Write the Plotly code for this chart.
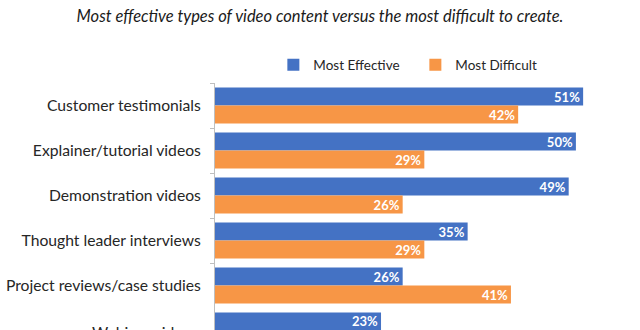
import plotly.graph_objects as go

categories = ["Customer testimonials", "Explainer/tutorial videos", "Demonstration videos",
              "Thought leader interviews", "Project reviews/case studies", "Webinar videos"]
most_effective = [51, 50, 49, 35, 26, 23]
most_difficult = [42, 29, 26, 29, 41, None]
series_names = ["Most Effective", "Most Difficult"]
title_text = "Most effective types of video content versus the most difficult to create."

BLUE = "#4472C4"
ORANGE = "#F79646"
FONT = "Lato"

fig = go.Figure()
for name, vals, col in [(series_names[0], most_effective, BLUE),
                        (series_names[1], most_difficult, ORANGE)]:
    fig.add_trace(go.Bar(
        y=categories, x=vals, name=name, orientation="h",
        marker=dict(color=col, line=dict(width=0)),
        texttemplate="<b>%{x}%</b>", textposition="inside", insidetextanchor="end",
        constraintext="none",
        textfont=dict(color="white", size=13, family=FONT),
        cliponaxis=True,
    ))

fig.update_layout(
    width=640, height=330,
    margin=dict(l=215, r=28, t=83, b=0),
    paper_bgcolor="white", plot_bgcolor="white",
    barmode="group", bargap=0.2, bargroupgap=0,
    font=dict(family=FONT, color="#262626"),
    title=dict(text="<i>" + title_text + "</i>", x=0.5, xref="container", xanchor="center",
               y=1 - 16 / 330, yref="container", yanchor="middle",
               font=dict(size=16.5, family=FONT, color="#1a1a1a")),
    legend=dict(orientation="h", x=0.147, xanchor="left", y=1.073, yanchor="middle",
                font=dict(size=13.5, family=FONT, color="#262626"),
                entrywidth=97, entrywidthmode="pixels", traceorder="normal",
                bgcolor="rgba(0,0,0,0)"),
    showlegend=True,
)
fig.update_xaxes(range=[0, 55], visible=False, showgrid=False, zeroline=False)
fig.update_yaxes(
    type="category", categoryorder="array", categoryarray=categories,
    range=[4.989, -0.5], showline=True, linecolor="#bfbfbf", linewidth=1,
    ticks="outside", tickson="boundaries", ticklen=4, tickcolor="#bfbfbf",
    ticklabelstandoff=10, tickfont=dict(size=15.7, family=FONT, color="#262626"),
    showgrid=False,
)
# Partially visible last category label (cut off by the bottom edge, as in the source)
fig.add_annotation(text=categories[5], xref="paper", x=0, xanchor="right", xshift=-14,
                   yref="paper", y=-(1.5 / 247), yanchor="middle", showarrow=False,
                   font=dict(size=15.7, family=FONT, color="#262626"))

fig.write_html("out.html")
